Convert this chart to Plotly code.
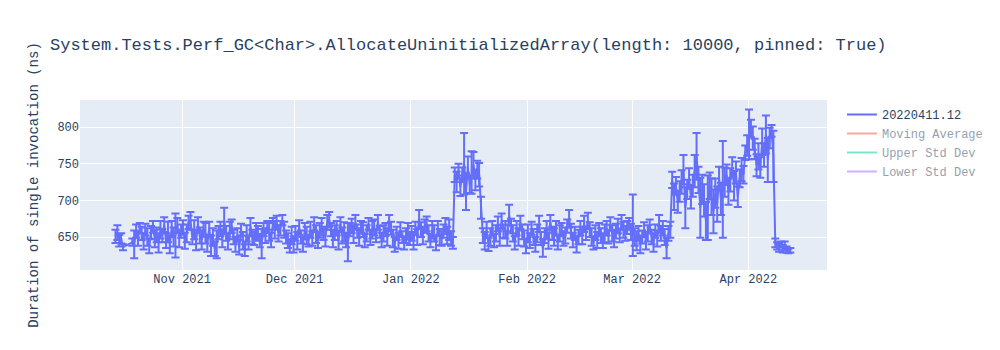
import plotly.graph_objects as go
import pandas as pd

title_text = "System.Tests.Perf_GC<Char>.AllocateUninitializedArray(length: 10000, pinned: True)"
series_name = "20220411.12"
y_title = "Duration of single invocation (ns)"

dates = [
    "2021-10-14 05:00", "2021-10-14 17:00",
    "2021-10-15 05:00", "2021-10-15 17:00",
    "2021-10-16 05:00",
    "2021-10-18 17:00",
    "2021-10-19 05:00", "2021-10-19 17:00",
    "2021-10-20 05:00", "2021-10-20 17:00",
    "2021-10-21 05:00", "2021-10-21 17:00",
    "2021-10-22 05:00", "2021-10-22 17:00",
    "2021-10-23 05:00", "2021-10-23 17:00",
    "2021-10-24 05:00", "2021-10-24 17:00",
    "2021-10-25 05:00", "2021-10-25 17:00",
    "2021-10-26 05:00", "2021-10-26 17:00",
    "2021-10-27 05:00", "2021-10-27 17:00",
    "2021-10-28 05:00", "2021-10-28 17:00",
    "2021-10-29 05:00", "2021-10-29 17:00",
    "2021-10-30 05:00", "2021-10-30 17:00",
    "2021-10-31 05:00", "2021-10-31 17:00",
    "2021-11-01 05:00", "2021-11-01 17:00",
    "2021-11-02 05:00", "2021-11-02 17:00",
    "2021-11-03 05:00", "2021-11-03 17:00",
    "2021-11-04 05:00", "2021-11-04 17:00",
    "2021-11-05 05:00", "2021-11-05 17:00",
    "2021-11-06 05:00", "2021-11-06 17:00",
    "2021-11-07 05:00", "2021-11-07 17:00",
    "2021-11-08 05:00", "2021-11-08 17:00",
    "2021-11-09 05:00", "2021-11-09 17:00",
    "2021-11-10 05:00", "2021-11-10 17:00",
    "2021-11-11 05:00", "2021-11-11 17:00",
    "2021-11-12 05:00", "2021-11-12 17:00",
    "2021-11-13 05:00", "2021-11-13 17:00",
    "2021-11-14 05:00", "2021-11-14 17:00",
    "2021-11-15 05:00", "2021-11-15 17:00",
    "2021-11-16 05:00", "2021-11-16 17:00",
    "2021-11-17 05:00", "2021-11-17 17:00",
    "2021-11-18 05:00", "2021-11-18 17:00",
    "2021-11-19 05:00", "2021-11-19 17:00",
    "2021-11-20 05:00", "2021-11-20 17:00",
    "2021-11-21 05:00", "2021-11-21 17:00",
    "2021-11-22 05:00", "2021-11-22 17:00",
    "2021-11-23 05:00", "2021-11-23 17:00",
    "2021-11-24 05:00", "2021-11-24 17:00",
    "2021-11-25 05:00", "2021-11-25 17:00",
    "2021-11-26 05:00", "2021-11-26 17:00",
    "2021-11-27 05:00", "2021-11-27 17:00",
    "2021-11-28 05:00", "2021-11-28 17:00",
    "2021-11-29 05:00", "2021-11-29 17:00",
    "2021-11-30 05:00", "2021-11-30 17:00",
    "2021-12-01 05:00", "2021-12-01 17:00",
    "2021-12-02 05:00", "2021-12-02 17:00",
    "2021-12-03 05:00", "2021-12-03 17:00",
    "2021-12-04 05:00", "2021-12-04 17:00",
    "2021-12-05 05:00", "2021-12-05 17:00",
    "2021-12-06 05:00", "2021-12-06 17:00",
    "2021-12-07 05:00", "2021-12-07 17:00",
    "2021-12-08 05:00", "2021-12-08 17:00",
    "2021-12-09 05:00", "2021-12-09 17:00",
    "2021-12-10 05:00", "2021-12-10 17:00",
    "2021-12-11 05:00", "2021-12-11 17:00",
    "2021-12-12 05:00", "2021-12-12 17:00",
    "2021-12-13 05:00", "2021-12-13 17:00",
    "2021-12-14 05:00", "2021-12-14 17:00",
    "2021-12-15 05:00", "2021-12-15 17:00",
    "2021-12-16 05:00", "2021-12-16 17:00",
    "2021-12-17 05:00", "2021-12-17 17:00",
    "2021-12-18 05:00", "2021-12-18 17:00",
    "2021-12-19 05:00", "2021-12-19 17:00",
    "2021-12-20 05:00", "2021-12-20 17:00",
    "2021-12-21 05:00", "2021-12-21 17:00",
    "2021-12-22 05:00", "2021-12-22 17:00",
    "2021-12-23 05:00", "2021-12-23 17:00",
    "2021-12-24 05:00", "2021-12-24 17:00",
    "2021-12-25 05:00", "2021-12-25 17:00",
    "2021-12-26 05:00", "2021-12-26 17:00",
    "2021-12-27 05:00", "2021-12-27 17:00",
    "2021-12-28 05:00", "2021-12-28 17:00",
    "2021-12-29 05:00", "2021-12-29 17:00",
    "2021-12-30 05:00", "2021-12-30 17:00",
    "2021-12-31 05:00", "2021-12-31 17:00",
    "2022-01-01 05:00", "2022-01-01 17:00",
    "2022-01-02 05:00", "2022-01-02 17:00",
    "2022-01-03 05:00", "2022-01-03 17:00",
    "2022-01-04 05:00", "2022-01-04 17:00",
    "2022-01-05 05:00", "2022-01-05 17:00",
    "2022-01-06 05:00", "2022-01-06 17:00",
    "2022-01-07 05:00", "2022-01-07 17:00",
    "2022-01-08 05:00", "2022-01-08 17:00",
    "2022-01-09 05:00", "2022-01-09 17:00",
    "2022-01-10 05:00", "2022-01-10 17:00",
    "2022-01-11 05:00", "2022-01-11 17:00",
    "2022-01-12 05:00", "2022-01-12 17:00",
    "2022-01-13 05:00", "2022-01-13 17:00",
    "2022-01-14 05:00", "2022-01-14 17:00",
    "2022-01-15 05:00", "2022-01-15 17:00",
    "2022-01-16 05:00", "2022-01-16 17:00",
    "2022-01-17 05:00", "2022-01-17 17:00",
    "2022-01-18 05:00", "2022-01-18 17:00",
    "2022-01-19 05:00", "2022-01-19 17:00",
    "2022-01-20 05:00", "2022-01-20 17:00",
    "2022-01-21 05:00", "2022-01-21 17:00",
    "2022-01-22 05:00", "2022-01-22 17:00",
    "2022-01-23 05:00", "2022-01-23 17:00",
    "2022-01-24 05:00", "2022-01-24 17:00",
    "2022-01-25 05:00", "2022-01-25 17:00",
    "2022-01-26 05:00", "2022-01-26 17:00",
    "2022-01-27 05:00", "2022-01-27 17:00",
    "2022-01-28 05:00", "2022-01-28 17:00",
    "2022-01-29 05:00", "2022-01-29 17:00",
    "2022-01-30 05:00", "2022-01-30 17:00",
    "2022-01-31 05:00", "2022-01-31 17:00",
    "2022-02-01 05:00", "2022-02-01 17:00",
    "2022-02-02 05:00", "2022-02-02 17:00",
    "2022-02-03 05:00", "2022-02-03 17:00",
    "2022-02-04 05:00", "2022-02-04 17:00",
    "2022-02-05 05:00", "2022-02-05 17:00",
    "2022-02-06 05:00", "2022-02-06 17:00",
    "2022-02-07 05:00", "2022-02-07 17:00",
    "2022-02-08 05:00", "2022-02-08 17:00",
    "2022-02-09 05:00", "2022-02-09 17:00",
    "2022-02-10 05:00", "2022-02-10 17:00",
    "2022-02-11 05:00", "2022-02-11 17:00",
    "2022-02-12 05:00", "2022-02-12 17:00",
    "2022-02-13 05:00", "2022-02-13 17:00",
    "2022-02-14 05:00", "2022-02-14 17:00",
    "2022-02-15 05:00", "2022-02-15 17:00",
    "2022-02-16 05:00", "2022-02-16 17:00",
    "2022-02-17 05:00", "2022-02-17 17:00",
    "2022-02-18 05:00", "2022-02-18 17:00",
    "2022-02-19 05:00", "2022-02-19 17:00",
    "2022-02-20 05:00", "2022-02-20 17:00",
    "2022-02-21 05:00", "2022-02-21 17:00",
    "2022-02-22 05:00", "2022-02-22 17:00",
    "2022-02-23 05:00", "2022-02-23 17:00",
    "2022-02-24 05:00", "2022-02-24 17:00",
    "2022-02-25 05:00", "2022-02-25 17:00",
    "2022-02-26 05:00", "2022-02-26 17:00",
    "2022-02-27 05:00", "2022-02-27 17:00",
    "2022-02-28 05:00", "2022-02-28 17:00",
    "2022-03-01 05:00", "2022-03-01 17:00",
    "2022-03-02 05:00", "2022-03-02 17:00",
    "2022-03-03 05:00", "2022-03-03 17:00",
    "2022-03-04 05:00", "2022-03-04 17:00",
    "2022-03-05 05:00", "2022-03-05 17:00",
    "2022-03-06 05:00", "2022-03-06 17:00",
    "2022-03-07 05:00", "2022-03-07 17:00",
    "2022-03-08 05:00", "2022-03-08 17:00",
    "2022-03-09 05:00", "2022-03-09 17:00",
    "2022-03-10 05:00", "2022-03-10 17:00",
    "2022-03-11 05:00", "2022-03-11 17:00",
    "2022-03-12 05:00", "2022-03-12 17:00",
    "2022-03-13 05:00", "2022-03-13 17:00",
    "2022-03-14 05:00", "2022-03-14 17:00",
    "2022-03-15 05:00", "2022-03-15 17:00",
    "2022-03-16 05:00", "2022-03-16 17:00",
    "2022-03-17 05:00", "2022-03-17 17:00",
    "2022-03-18 05:00", "2022-03-18 17:00",
    "2022-03-19 05:00", "2022-03-19 17:00",
    "2022-03-20 05:00", "2022-03-20 17:00",
    "2022-03-21 05:00", "2022-03-21 17:00",
    "2022-03-22 05:00", "2022-03-22 17:00",
    "2022-03-23 05:00", "2022-03-23 17:00",
    "2022-03-24 05:00", "2022-03-24 17:00",
    "2022-03-25 05:00", "2022-03-25 17:00",
    "2022-03-26 05:00", "2022-03-26 17:00",
    "2022-03-27 05:00", "2022-03-27 17:00",
    "2022-03-28 05:00", "2022-03-28 17:00",
    "2022-03-29 05:00", "2022-03-29 17:00",
    "2022-03-30 05:00", "2022-03-30 17:00",
    "2022-03-31 05:00", "2022-03-31 17:00",
    "2022-04-01 05:00", "2022-04-01 17:00",
    "2022-04-02 05:00", "2022-04-02 17:00",
    "2022-04-03 05:00", "2022-04-03 17:00",
    "2022-04-04 05:00", "2022-04-04 17:00",
    "2022-04-05 05:00", "2022-04-05 17:00",
    "2022-04-06 05:00", "2022-04-06 17:00",
    "2022-04-07 05:00", "2022-04-07 17:00",
    "2022-04-08 05:00", "2022-04-08 17:00",
    "2022-04-09 05:00", "2022-04-09 17:00",
    "2022-04-10 05:00", "2022-04-10 17:00",
    "2022-04-11 05:00", "2022-04-11 17:00",
    "2022-04-12 05:00",
]

values = [
    651, 656,
    645, 648,
    636,
    643,
    640, 658,
    648, 662,
    655, 644,
    660, 650,
    638, 656,
    664, 648,
    653, 642,
    660, 652,
    667, 645,
    657, 640,
    661, 650,
    652, 666,
    648, 658,
    663, 645,
    655, 670,
    672, 650,
    660, 644,
    668, 652,
    646, 661,
    655, 640,
    662, 638,
    650, 634,
    640, 656,
    661, 648,
    672, 655,
    644, 659,
    665, 650,
    640, 653,
    636, 660,
    645, 632,
    655, 642,
    664, 650,
    648, 658,
    655, 645,
    641, 660,
    652, 664,
    657, 646,
    668, 660,
    670, 655,
    662, 673,
    660, 650,
    645, 638,
    652, 640,
    655, 645,
    663, 650,
    640, 658,
    652, 645,
    660, 648,
    668, 654,
    646, 659,
    664, 655,
    650, 670,
    674, 660,
    648, 656,
    662, 645,
    668, 652,
    657, 646,
    643, 660,
    665, 654,
    670, 658,
    650, 664,
    660, 645,
    655, 668,
    649, 660,
    663, 652,
    670, 657,
    646, 655,
    660, 650,
    669, 662,
    648, 640,
    655, 645,
    660, 650,
    642, 652,
    658, 648,
    655, 645,
    662, 650,
    675, 660,
    652, 665,
    668, 655,
    645, 660,
    655, 642,
    662, 650,
    648, 658,
    665, 652,
    660, 648,
    642, 735,
    725, 742,
    718, 735,
    750, 712,
    745, 722,
    738, 748,
    728, 742,
    735, 690,
    652, 645,
    660, 640,
    650, 662,
    645, 655,
    668, 650,
    672, 658,
    660, 648,
    680, 665,
    655, 642,
    662, 650,
    670, 657,
    648, 638,
    655, 645,
    662, 650,
    640, 655,
    668, 648,
    635, 652,
    660, 645,
    670, 655,
    650, 662,
    643, 655,
    660, 648,
    652, 665,
    675, 658,
    646, 655,
    640, 650,
    662, 652,
    668, 655,
    672, 660,
    650, 642,
    656, 646,
    660, 652,
    645, 655,
    662, 650,
    668, 655,
    648, 658,
    665, 652,
    670, 660,
    655, 663,
    668, 657,
    666, 650,
    645, 655,
    640, 650,
    660, 645,
    655, 665,
    650, 642,
    658, 648,
    668, 655,
    662, 650,
    635, 655,
    660, 728,
    705, 720,
    698, 712,
    725, 742,
    690, 715,
    730, 705,
    720, 740,
    760, 728,
    690, 715,
    700, 672,
    690, 720,
    705, 685,
    710, 695,
    730, 702,
    715, 725,
    735, 712,
    728, 745,
    720, 738,
    705, 730,
    742, 735,
    765, 775,
    790, 798,
    785, 770,
    748, 760,
    745, 780,
    762, 790,
    755, 785,
    795, 760,
    642, 638,
    636, 640,
    634, 638,
    633, 631,
    632,
]

errors = [
    9, 10,
    8, 7,
    4,
    5,
    19, 9,
    10, 7,
    9, 11,
    8, 12,
    10, 9,
    8, 12,
    10, 13,
    12, 9,
    10, 10,
    14, 12,
    11, 13,
    30, 10,
    12, 9,
    10, 11,
    12, 9,
    12, 10,
    13, 12,
    9, 11,
    13, 10,
    14, 10,
    9, 14,
    12, 10,
    19, 9,
    10, 12,
    18, 10,
    11, 12,
    9, 10,
    10, 9,
    10, 8,
    12, 8,
    11, 9,
    12, 10,
    9, 11,
    10, 9,
    20, 9,
    10, 8,
    12, 10,
    8, 12,
    9, 11,
    10, 7,
    11, 9,
    10, 9,
    12, 11,
    10, 12,
    10, 9,
    10, 11,
    12, 8,
    11, 10,
    9, 12,
    11, 10,
    12, 9,
    13, 10,
    10, 9,
    12, 10,
    10, 12,
    9, 11,
    13, 10,
    26, 9,
    10, 12,
    10, 9,
    12, 8,
    10, 9,
    11, 8,
    10, 12,
    11, 9,
    10, 8,
    10, 11,
    9, 12,
    11, 9,
    12, 10,
    9, 11,
    10, 8,
    9, 10,
    11, 9,
    10, 12,
    9, 11,
    12, 10,
    12, 9,
    10, 11,
    9, 12,
    11, 10,
    10, 11,
    10, 9,
    11, 12,
    14, 10,
    8, 10,
    14, 8,
    12, 10,
    42, 25,
    15, 12,
    29, 18,
    14, 12,
    16, 15,
    10, 12,
    11, 9,
    12, 10,
    9, 11,
    10, 12,
    10, 9,
    12, 10,
    14, 10,
    11, 9,
    10, 12,
    9, 10,
    11, 10,
    12, 10,
    9, 11,
    10, 12,
    11, 9,
    12, 10,
    12, 11,
    10, 9,
    12, 10,
    10, 11,
    9, 10,
    11, 9,
    12, 10,
    10, 9,
    11, 10,
    10, 12,
    11, 9,
    11, 10,
    12, 9,
    10, 11,
    9, 10,
    10, 12,
    10, 9,
    9, 11,
    12, 10,
    10, 9,
    10, 11,
    10, 9,
    8, 11,
    42, 12,
    13, 10,
    12, 9,
    10, 12,
    11, 9,
    10, 12,
    9, 11,
    12, 10,
    10, 11,
    14, 10,
    11, 11,
    18, 12,
    15, 14,
    16, 20,
    28, 13,
    14, 16,
    15, 22,
    32, 18,
    41, 20,
    22, 26,
    44, 18,
    25, 30,
    20, 24,
    16, 22,
    66, 20,
    14, 18,
    16, 14,
    20, 15,
    14, 12,
    16, 12,
    10, 14,
    34, 12,
    16, 14,
    15, 18,
    14, 18,
    16, 26,
    30, 14,
    8, 35,
    6, 5,
    6, 4,
    5, 6,
    4, 3,
    3,
]

x_range = ["2021-10-04 18:00", "2022-04-22 00:00"]
y_range = [605, 837]

df = pd.DataFrame({"date": pd.to_datetime(dates), "value": values})
moving_avg = df["value"].rolling(window=10, min_periods=1).mean()
moving_std = df["value"].rolling(window=10, min_periods=1).std().fillna(0)

fig = go.Figure()
fig.add_trace(go.Scatter(
    x=df["date"], y=values, mode="lines", name=series_name,
    error_y=dict(type="data", array=errors, visible=True),
))
fig.add_trace(go.Scatter(x=df["date"], y=moving_avg, mode="lines",
                         name="Moving Average", visible="legendonly"))
fig.add_trace(go.Scatter(x=df["date"], y=moving_avg + moving_std, mode="lines",
                         name="Upper Std Dev", visible="legendonly"))
fig.add_trace(go.Scatter(x=df["date"], y=moving_avg - moving_std, mode="lines",
                         name="Lower Std Dev", visible="legendonly"))

fig.update_layout(
    width=1000, height=350,
    title=dict(text=title_text),
    font=dict(family="Courier New, Liberation Mono, monospace"),
    yaxis=dict(title=dict(text=y_title), range=y_range),
    xaxis=dict(range=x_range),
    template="plotly",
)

fig.write_html("out.html")
